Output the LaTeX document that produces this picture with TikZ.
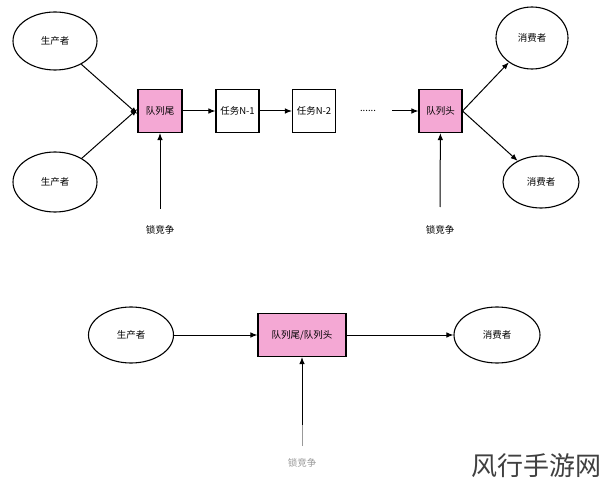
\documentclass[tikz,border=0pt]{standalone}
\usepackage{fontspec}
\setmainfont{Noto Sans CJK SC}
\newfontfamily\cjk{Noto Sans CJK SC}
\usetikzlibrary{arrows.meta}
\definecolor{qpink}{RGB}{244,168,212}
\tikzset{
  x=1pt, y=-1pt,
  ell/.style={draw, line width=1.1pt, ellipse, minimum width=84pt, minimum height=58pt, inner sep=0pt, font=\fontsize{9.5}{11}\selectfont},
  qbox/.style={draw, line width=1.1pt, fill=qpink, minimum width=44pt, minimum height=43pt, inner sep=0pt, font=\fontsize{9.5}{11}\selectfont},
  tbox/.style={draw, line width=1.1pt, fill=white, minimum width=43pt, minimum height=43pt, inner sep=0pt, font=\fontsize{9.5}{11}\selectfont},
  lbl/.style={font=\fontsize{9.5}{11}\selectfont, inner sep=1pt},
  arr/.style={-{Latex[length=7pt,width=5.5pt]}, line width=1pt},
}
\usetikzlibrary{shapes.geometric}
\begin{document}
\begin{tikzpicture}
\useasboundingbox (0,0) rectangle (600,481);
\fill[white] (0,0) rectangle (600,481);
% top section
\node[ell] (p1) at (55,41) {生产者};
\node[ell, minimum height=60pt] (p2) at (55,182) {生产者};
\node[qbox] (tail) at (160,111) {队列尾};
\node[tbox] (t1) at (237.5,111) {任务N-1};
\node[tbox] (t2) at (314,111) {任务N-2};
\node[lbl] (dots) at (368,111) {......};
\coordinate (dstart) at (392,111);
\node[qbox, minimum width=43pt] (head) at (440.5,111) {队列头};
\node[ell, minimum width=72pt, minimum height=62pt] (c1) at (532,38) {消费者};
\node[ell, minimum width=76pt, minimum height=52pt] (c2) at (541,182) {消费者};
\coordinate (l1s) at (160,209);
\node[lbl] (l1) at (160,230) {锁竞争};
\coordinate (l2s) at (440,207);
\node[lbl] (l2) at (440,230) {锁竞争};

\draw[arr] (p1) -- ([yshift=-3pt]tail.west);
\draw[arr] (p2) -- ([yshift=2pt]tail.west);
\draw[arr] (tail) -- (t1);
\draw[arr] (t1) -- (t2);
\draw[arr] (dstart) -- (head);
\draw[arr] (l1s) -- (tail);
\draw[arr] (l2s) -- (head);
\draw[arr] (head.east) -- (c1);
\draw[arr] (head.east) -- (c2);

% bottom section
\node[ell, minimum width=85pt, minimum height=56pt] (p3) at (131,335) {生产者};
\node[qbox, minimum width=88pt] (qh) at (302,335) {队列尾/队列头};
\node[ell, minimum width=86pt, minimum height=56pt] (c3) at (497,335) {消费者};
\coordinate (l3s) at (302,446);
\node[lbl, text=black!40] (l3) at (302,463) {锁竞争};
\draw[arr] (l3s) -- (qh);
\draw[arr] (p3) -- (qh);
\draw[arr] (qh) -- (c3);
\draw[white, opacity=0.6, line width=2pt] (302,447) -- (302,425);

% watermark
\node[inner sep=0pt, text=black!75, font=\fontsize{26}{28}\selectfont] (wm) at (536,466) {风行手游网};
\end{tikzpicture}
\end{document}
